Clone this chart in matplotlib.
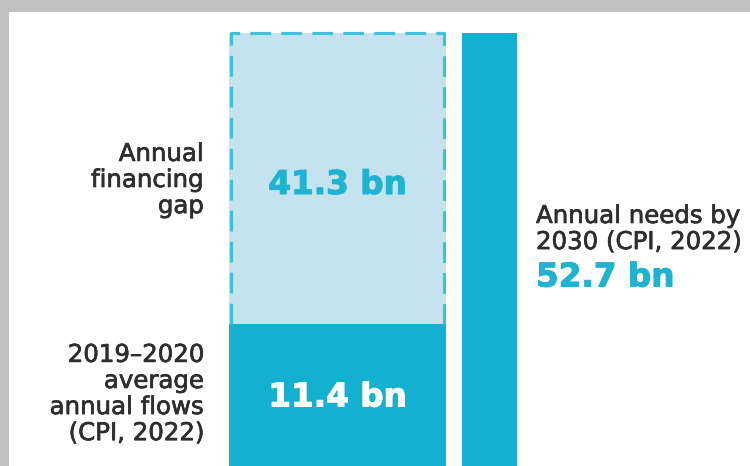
import numpy as np
import matplotlib
matplotlib.use("Agg")
import matplotlib.pyplot as plt
import matplotlib.patheffects as pe
from matplotlib.patches import Rectangle

# Climate finance figures, USD billions (CPI, 2022)
flows_label = "2019\u20132020\naverage\nannual flows\n(CPI, 2022)"
gap_label = "Annual\nfinancing\ngap"
needs_label = "Annual needs by\n2030 (CPI, 2022)"
current_flows = 11.4
financing_gap = 41.3
annual_needs = 52.7

DARK = "#13b1cf"
LIGHT = "#c4e3ee"
DASH = "#3fc1dc"
ACCENT = "#1fb3d2"
TEXT = "#2e2e2e"

W, H = 750, 466
fig = plt.figure(figsize=(W / 100, H / 100), dpi=100)
fig.patch.set_facecolor("white")

# plot area: x from 229px to 517px, y from 33px (top) to image bottom
ax_left, ax_right, ax_top = 229, 517, 33
ax = fig.add_axes([ax_left / W, 0, (ax_right - ax_left) / W, (H - ax_top) / H])
ax.set_facecolor("none")

# compressed vertical scale so the lower block keeps a readable height
p = 0.728
ax.set_yscale("function", functions=(lambda v: np.sign(v) * np.abs(v) ** p,
                                     lambda v: np.sign(v) * np.abs(v) ** (1 / p)))
ax.set_ylim(0, annual_needs)
ax.set_xlim(0, ax_right - ax_left)

left_w = 217
gap_w = 16
right_w = 55

# stacked bar: current flows + financing gap
ax.bar(0, financing_gap, width=left_w, bottom=current_flows, align="edge",
       color=LIGHT, edgecolor="none", zorder=1)
ax.bar(0, current_flows, width=left_w, bottom=0, align="edge",
       color=DARK, edgecolor="none", zorder=2)

# dashed outline around the gap segment (sides and top)
top = current_flows + financing_gap
inset = 2
ax.plot([inset, inset, left_w - inset, left_w - inset],
        [current_flows, top, top, current_flows],
        color=DASH, lw=2.3, linestyle=(0, (6.5, 3.2)), solid_capstyle="butt",
        dash_capstyle="butt", clip_on=False, zorder=3)

# total needs bar
ax.bar(left_w + gap_w, annual_needs, width=right_w, bottom=0, align="edge",
       color=DARK, edgecolor="none", zorder=2)

ax.axis("off")


def seg_center_px(lo, hi):
    y0 = ax.transData.transform((0, lo))[1]
    y1 = ax.transData.transform((0, hi))[1]
    return (y0 + y1) / 2


def heavy(color, w):
    return [pe.Stroke(linewidth=w, foreground=color), pe.Normal()]


VAL_SIZE = 23.5
LAB_SIZE = 17.6
LAB_LS = 1.11

fig.canvas.draw()
xc = ax.transData.transform((left_w / 2, 0))[0]
ax.annotate(f"{financing_gap:.1f} bn", xy=(xc, seg_center_px(current_flows, top) - 6),
            xycoords="figure pixels", ha="center", va="center",
            fontsize=VAL_SIZE, fontweight="bold", color=ACCENT, family="DejaVu Sans",
            path_effects=heavy(ACCENT, 0.8))
ax.annotate(f"{current_flows:.1f} bn", xy=(xc, seg_center_px(0, current_flows) - 2),
            xycoords="figure pixels", ha="center", va="center",
            fontsize=VAL_SIZE, fontweight="bold", color="white", family="DejaVu Sans",
            path_effects=heavy("white", 0.8))

# side labels
fig.text(204 / W, 1 - 180 / H, gap_label, ha="right", va="center",
         fontsize=LAB_SIZE, color=TEXT, linespacing=LAB_LS, family="DejaVu Sans",
         path_effects=heavy(TEXT, 0.5))
fig.text(204 / W, 1 - 394 / H, flows_label, ha="right", va="center",
         fontsize=LAB_SIZE, color=TEXT, linespacing=LAB_LS, family="DejaVu Sans",
         path_effects=heavy(TEXT, 0.5))
fig.text(536 / W, 1 - 229 / H, needs_label, ha="left", va="center",
         fontsize=LAB_SIZE, color=TEXT, linespacing=LAB_LS, family="DejaVu Sans",
         path_effects=heavy(TEXT, 0.5))
fig.text(536 / W, 1 - 277 / H, f"{annual_needs:.1f} bn", ha="left", va="center",
         fontsize=VAL_SIZE, fontweight="bold", color=ACCENT, family="DejaVu Sans",
         path_effects=heavy(ACCENT, 0.8))

# grey frame along the top and left edges
fig.patches.append(Rectangle((0, 1 - 12 / H), 1, 12 / H, transform=fig.transFigure,
                             facecolor="#c0c0c0", edgecolor="none", zorder=10))
fig.patches.append(Rectangle((0, 0), 9 / W, 1, transform=fig.transFigure,
                             facecolor="#c0c0c0", edgecolor="none", zorder=10))

fig.savefig("out.png", dpi=100, facecolor="white")
